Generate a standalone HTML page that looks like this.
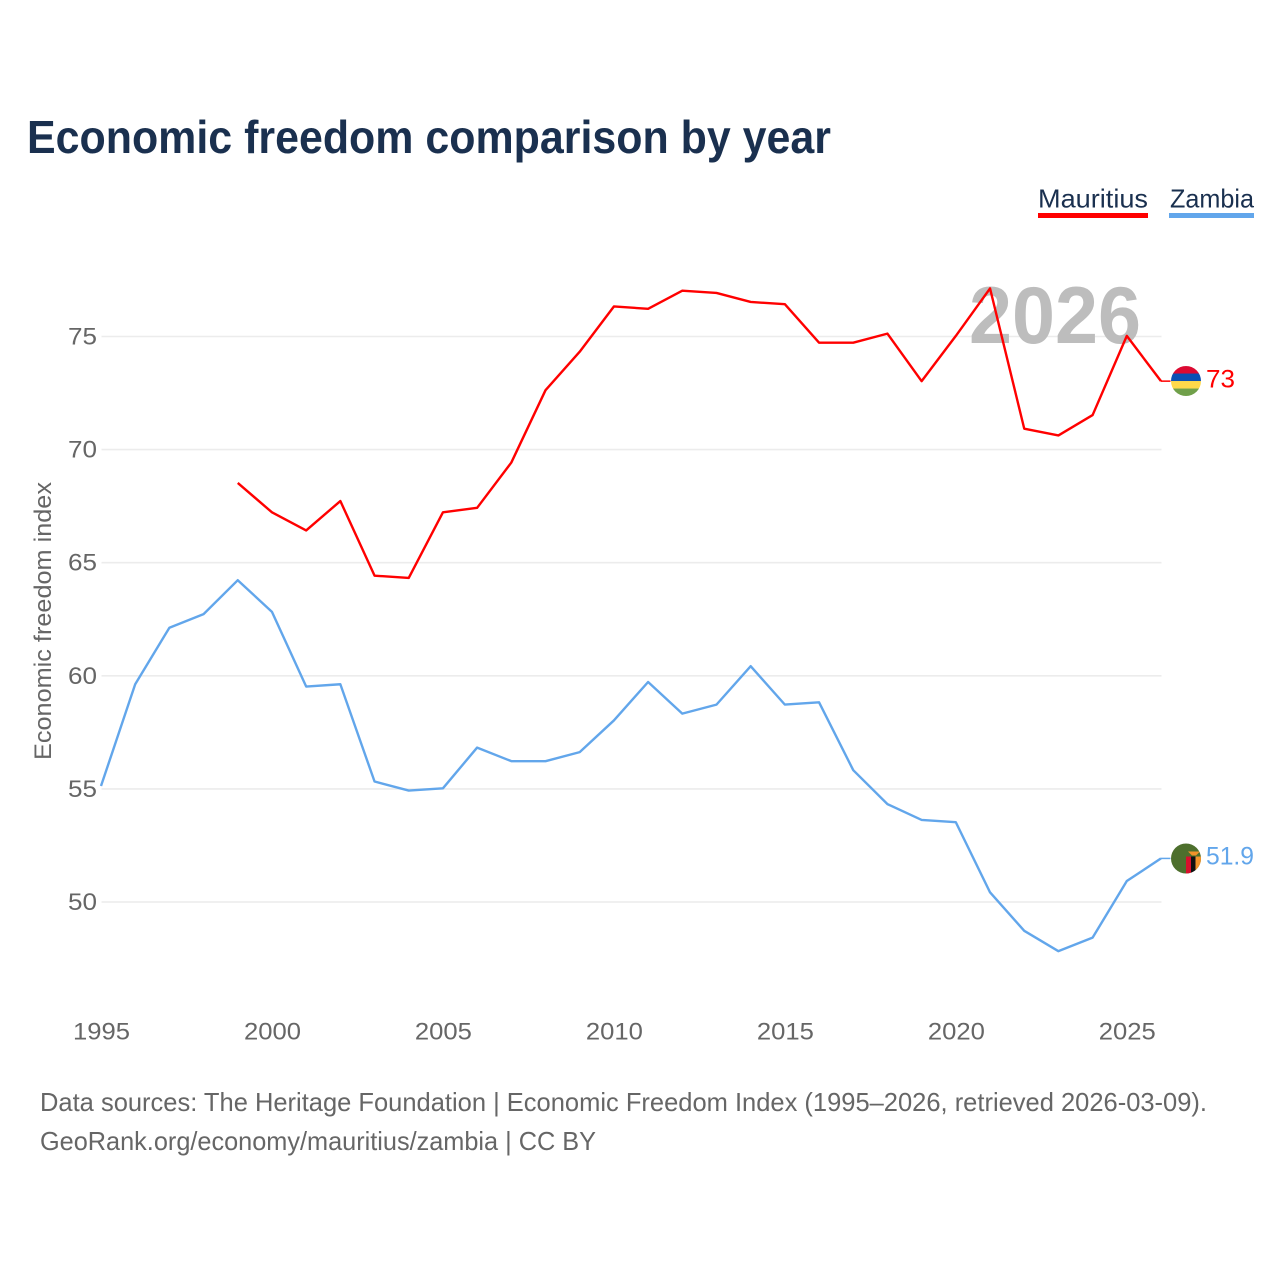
<!DOCTYPE html>
<html lang="en">
<head>
<meta charset="utf-8">
<title>Economic freedom comparison by year</title>
<style>
  html, body { margin: 0; padding: 0; background: #fff; }
  svg { display: block; font-family: "Liberation Sans", sans-serif; }
</style>
</head>
<body>
<svg id="chart" width="1280" height="1280" viewBox="0 0 1280 1280" xmlns="http://www.w3.org/2000/svg">
  <defs>
    <clipPath id="clip-mu"><circle cx="0" cy="0" r="15"></circle></clipPath>
    <clipPath id="clip-zm"><circle cx="0" cy="0" r="15"></circle></clipPath>
  </defs>
  <rect x="0" y="0" width="1280" height="1280" fill="#ffffff"></rect>
  <text x="27" y="153" font-size="46" font-weight="700" fill="#1a304f" textLength="804" lengthAdjust="spacingAndGlyphs">Economic freedom comparison by year</text>

  <g>
    <text x="1038" y="207.5" font-size="26" fill="#1a304f" textLength="110" lengthAdjust="spacingAndGlyphs">Mauritius</text>
    <rect x="1038" y="213" width="110" height="5" fill="#ff0000"></rect>
  </g>
  <g>
    <text x="1170" y="207.5" font-size="26" fill="#1a304f" textLength="84" lengthAdjust="spacingAndGlyphs">Zambia</text>
    <rect x="1169" y="213" width="85" height="5" fill="#62a6eb"></rect>
  </g>

  <text transform="translate(51,760) rotate(-90)" font-size="24" fill="#666666" textLength="278" lengthAdjust="spacingAndGlyphs">Economic freedom index</text>

  <g id="grid"></g>
  <g id="yticks"></g>
  <g id="xticks"></g>

  <text x="1141" y="343" font-size="81" font-weight="700" fill="#bdbdbd" text-anchor="end" textLength="172" lengthAdjust="spacingAndGlyphs">2026</text>

  <g id="series" transform="translate(-0.5,-0.6)"></g>

  <g id="flag-mu">
    <g clip-path="url(#clip-mu)">
      <rect x="-15" y="-15" width="30" height="8" fill="#dc0a32"></rect>
      <rect x="-15" y="-7.5" width="30" height="7.7" fill="#0a50b4"></rect>
      <rect x="-15" y="0" width="30" height="7.7" fill="#ffd94a"></rect>
      <rect x="-15" y="7.5" width="30" height="8" fill="#70a04a"></rect>
    </g>
  </g>
  <g id="flag-zm">
    <g clip-path="url(#clip-zm)">
      <rect x="-15" y="-15" width="30" height="30" fill="#4d6f2d"></rect>
      <rect x="0" y="-2" width="5" height="17" fill="#d8102c"></rect>
      <rect x="5" y="-2" width="4.5" height="17" fill="#111111"></rect>
      <rect x="9.5" y="-2" width="5.5" height="17" fill="#f2932a"></rect>
      <path d="M2 -7 L14 -7 L10 -3 L6 -3 Z" fill="#f2932a"></path>
    </g>
  </g>

  <text id="label-mu" x="1206" font-size="25" fill="#ff0000" textLength="29" lengthAdjust="spacingAndGlyphs"></text>
  <text id="label-zm" x="1206" font-size="25" fill="#62a6eb" textLength="48" lengthAdjust="spacingAndGlyphs"></text>

  <text x="40" y="1111" font-size="26" fill="#666666" textLength="1167" lengthAdjust="spacingAndGlyphs">Data sources: The Heritage Foundation | Economic Freedom Index (1995–2026, retrieved 2026-03-09).</text>
  <text x="40" y="1150" font-size="26" fill="#666666" textLength="556" lengthAdjust="spacingAndGlyphs">GeoRank.org/economy/mauritius/zambia | CC BY</text>
</svg>

<script>
const yTicks = [50, 55, 60, 65, 70, 75];
const xTicks = [1995, 2000, 2005, 2010, 2015, 2020, 2025];
const mauritiusStartYear = 1999;
const mauritiusValues = [68.5, 67.2, 66.4, 67.7, 64.4, 64.3, 67.2, 67.4, 69.4, 72.6, 74.3, 76.3, 76.2, 77.0, 76.9, 76.5, 76.4, 74.7, 74.7, 75.1, 73.0, 75.0, 77.1, 70.9, 70.6, 71.5, 75.0, 73.0];
const zambiaStartYear = 1995;
const zambiaValues = [55.1, 59.6, 62.1, 62.7, 64.2, 62.8, 59.5, 59.6, 55.3, 54.9, 55.0, 56.8, 56.2, 56.2, 56.6, 58.0, 59.7, 58.3, 58.7, 60.4, 58.7, 58.8, 55.8, 54.3, 53.6, 53.5, 50.4, 48.7, 47.8, 48.4, 50.9, 51.9];

const NS = 'http://www.w3.org/2000/svg';
function xScale(year) { return 101.5 + (year - 1995) * (1161.5 - 101.5) / 31; }
function yScale(v) { return 902 - (v - 50) * (902 - 336.5) / 25; }
function make(tag, attrs, parent) {
  const el = document.createElementNS(NS, tag);
  for (const k in attrs) el.setAttribute(k, attrs[k]);
  parent.appendChild(el);
  return el;
}
const grid = document.getElementById('grid');
const yG = document.getElementById('yticks');
const xG = document.getElementById('xticks');
const seriesG = document.getElementById('series');

yTicks.forEach(function (t) {
  const line = make('line', { x1: 101.5, x2: 1161.5, y1: yScale(t), y2: yScale(t), stroke: '#ececec', 'stroke-width': 1.6 }, grid);
  
  
  const label = make('text', { x: 97, y: yScale(t) + 8, 'font-size': 24, fill: '#666666', 'text-anchor': 'end', textLength: 29, lengthAdjust: 'spacingAndGlyphs' }, yG);
  label.textContent = t;
  
  
});

xTicks.forEach(function (t) {
  const label = make('text', { x: xScale(t), y: 1039.5, 'font-size': 24, fill: '#666666', 'text-anchor': 'middle', textLength: 57, lengthAdjust: 'spacingAndGlyphs' }, xG);
  label.textContent = t;
  
  
});

function linePoints(values, startYear) {
  return values.map(function (v, i) {
    return xScale(startYear + i).toFixed(2) + ',' + yScale(v).toFixed(2);
  }).join(' ');
}

const lineMu = make('polyline', { points: linePoints(mauritiusValues, mauritiusStartYear), fill: 'none', stroke: '#ff0000', 'stroke-width': 2.4, 'stroke-linejoin': 'round' }, seriesG);



const lineZm = make('polyline', { points: linePoints(zambiaValues, zambiaStartYear), fill: 'none', stroke: '#62a6eb', 'stroke-width': 2.4, 'stroke-linejoin': 'round' }, seriesG);



const lastMu = mauritiusValues[mauritiusValues.length - 1];
const lastZm = zambiaValues[zambiaValues.length - 1];

const connMu = make('line', { x1: 1161.5, x2: 1171, y1: yScale(lastMu), y2: yScale(lastMu), stroke: '#ff0000', 'stroke-width': 1.5 }, seriesG);



const connZm = make('line', { x1: 1161.5, x2: 1171, y1: yScale(lastZm), y2: yScale(lastZm), stroke: '#62a6eb', 'stroke-width': 1.5 }, seriesG);



document.getElementById('flag-mu').setAttribute('transform', 'translate(1186,' + (yScale(lastMu) - 0.7) + ')');
document.getElementById('flag-zm').setAttribute('transform', 'translate(1186,' + (yScale(lastZm) - 0.5) + ')');

const labelMu = document.getElementById('label-mu');
labelMu.textContent = lastMu;
labelMu.setAttribute('y', yScale(lastMu) + 6);
const labelZm = document.getElementById('label-zm');
labelZm.textContent = lastZm;
labelZm.setAttribute('y', yScale(lastZm) + 5.5);
</script>
</body>
</html>
